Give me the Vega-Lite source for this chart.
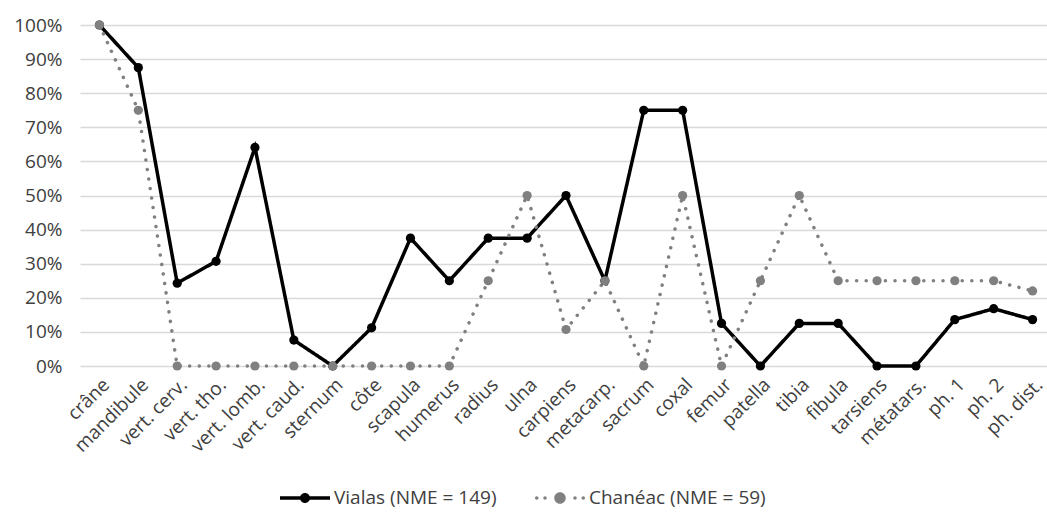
{
  "$schema": "https://vega.github.io/schema/vega-lite/v6.json",
  "width": 972,
  "height": 341,
  "autosize": {"type": "none"},
  "padding": {"left": 80, "top": 25, "right": 0, "bottom": 150},
  "background": "white",
  "config": {
    "view": {"stroke": null},
    "font": "Open Sans",
    "axis": {"labelFont": "Open Sans", "labelFontSize": 19, "labelColor": "#404040"},
    "legend": {"labelFont": "Open Sans", "labelFontSize": 19, "labelColor": "#404040", "labelLimit": 400}
  },
  "data": {
    "values": [
      {"os": "crâne", "serie": "Vialas (NME = 149)", "pct": 1.0},
      {"os": "mandibule", "serie": "Vialas (NME = 149)", "pct": 0.875},
      {"os": "vert. cerv.", "serie": "Vialas (NME = 149)", "pct": 0.243},
      {"os": "vert. tho.", "serie": "Vialas (NME = 149)", "pct": 0.307},
      {"os": "vert. lomb.", "serie": "Vialas (NME = 149)", "pct": 0.641},
      {"os": "vert. caud.", "serie": "Vialas (NME = 149)", "pct": 0.076},
      {"os": "sternum", "serie": "Vialas (NME = 149)", "pct": 0.0},
      {"os": "côte", "serie": "Vialas (NME = 149)", "pct": 0.112},
      {"os": "scapula", "serie": "Vialas (NME = 149)", "pct": 0.375},
      {"os": "humerus", "serie": "Vialas (NME = 149)", "pct": 0.25},
      {"os": "radius", "serie": "Vialas (NME = 149)", "pct": 0.375},
      {"os": "ulna", "serie": "Vialas (NME = 149)", "pct": 0.375},
      {"os": "carpiens", "serie": "Vialas (NME = 149)", "pct": 0.5},
      {"os": "metacarp.", "serie": "Vialas (NME = 149)", "pct": 0.25},
      {"os": "sacrum", "serie": "Vialas (NME = 149)", "pct": 0.75},
      {"os": "coxal", "serie": "Vialas (NME = 149)", "pct": 0.75},
      {"os": "femur", "serie": "Vialas (NME = 149)", "pct": 0.125},
      {"os": "patella", "serie": "Vialas (NME = 149)", "pct": 0.0},
      {"os": "tibia", "serie": "Vialas (NME = 149)", "pct": 0.125},
      {"os": "fibula", "serie": "Vialas (NME = 149)", "pct": 0.125},
      {"os": "tarsiens", "serie": "Vialas (NME = 149)", "pct": 0.0},
      {"os": "métatars.", "serie": "Vialas (NME = 149)", "pct": 0.0},
      {"os": "ph. 1", "serie": "Vialas (NME = 149)", "pct": 0.136},
      {"os": "ph. 2", "serie": "Vialas (NME = 149)", "pct": 0.168},
      {"os": "ph. dist.", "serie": "Vialas (NME = 149)", "pct": 0.136},
      {"os": "crâne", "serie": "Chanéac (NME = 59)", "pct": 1.0},
      {"os": "mandibule", "serie": "Chanéac (NME = 59)", "pct": 0.75},
      {"os": "vert. cerv.", "serie": "Chanéac (NME = 59)", "pct": 0.0},
      {"os": "vert. tho.", "serie": "Chanéac (NME = 59)", "pct": 0.0},
      {"os": "vert. lomb.", "serie": "Chanéac (NME = 59)", "pct": 0.0},
      {"os": "vert. caud.", "serie": "Chanéac (NME = 59)", "pct": 0.0},
      {"os": "sternum", "serie": "Chanéac (NME = 59)", "pct": 0.0},
      {"os": "côte", "serie": "Chanéac (NME = 59)", "pct": 0.0},
      {"os": "scapula", "serie": "Chanéac (NME = 59)", "pct": 0.0},
      {"os": "humerus", "serie": "Chanéac (NME = 59)", "pct": 0.0},
      {"os": "radius", "serie": "Chanéac (NME = 59)", "pct": 0.25},
      {"os": "ulna", "serie": "Chanéac (NME = 59)", "pct": 0.5},
      {"os": "carpiens", "serie": "Chanéac (NME = 59)", "pct": 0.107},
      {"os": "metacarp.", "serie": "Chanéac (NME = 59)", "pct": 0.25},
      {"os": "sacrum", "serie": "Chanéac (NME = 59)", "pct": 0.0},
      {"os": "coxal", "serie": "Chanéac (NME = 59)", "pct": 0.5},
      {"os": "femur", "serie": "Chanéac (NME = 59)", "pct": 0.0},
      {"os": "patella", "serie": "Chanéac (NME = 59)", "pct": 0.25},
      {"os": "tibia", "serie": "Chanéac (NME = 59)", "pct": 0.5},
      {"os": "fibula", "serie": "Chanéac (NME = 59)", "pct": 0.25},
      {"os": "tarsiens", "serie": "Chanéac (NME = 59)", "pct": 0.25},
      {"os": "métatars.", "serie": "Chanéac (NME = 59)", "pct": 0.25},
      {"os": "ph. 1", "serie": "Chanéac (NME = 59)", "pct": 0.25},
      {"os": "ph. 2", "serie": "Chanéac (NME = 59)", "pct": 0.25},
      {"os": "ph. dist.", "serie": "Chanéac (NME = 59)", "pct": 0.22}
    ]
  },
  "encoding": {
    "x": {
      "field": "os", "type": "nominal", "sort": null,
      "scale": {"type": "point", "padding": 0.5},
      "axis": {"title": null, "labelAngle": -45, "ticks": false, "domain": false, "grid": false, "labelPadding": 9}
    },
    "y": {
      "field": "pct", "type": "quantitative",
      "scale": {"domain": [0, 1]},
      "axis": {"title": null, "format": ".0%", "values": [0, 0.1, 0.2, 0.3, 0.4, 0.5, 0.6, 0.7, 0.8, 0.9, 1.0], "ticks": false, "domain": false, "gridColor": "#d9d9d9", "gridWidth": 1.3, "labelPadding": 18}
    },
    "color": {
      "field": "serie", "type": "nominal", "sort": null,
      "scale": {"domain": ["Vialas (NME = 149)", "Chanéac (NME = 59)"], "range": ["#000000", "#808080"]},
      "legend": {
        "title": null, "orient": "none", "direction": "horizontal", "legendX": 200, "legendY": 448,
        "symbolSize": 2500, "symbolStrokeWidth": 0, "columnPadding": 38, "labelOffset": 4,
        "encode": {
          "symbols": {
            "update": {
              "shape": {"signal": "datum.label == 'Chanéac (NME = 59)' ? 'M -1 0 A 0.07 0.07 0 1 1 -0.86 0 A 0.07 0.07 0 1 1 -1 0 Z M -0.67 0 A 0.07 0.07 0 1 1 -0.53 0 A 0.07 0.07 0 1 1 -0.67 0 Z M 0.53 0 A 0.07 0.07 0 1 1 0.67 0 A 0.07 0.07 0 1 1 0.53 0 Z M 0.86 0 A 0.07 0.07 0 1 1 1 0 A 0.07 0.07 0 1 1 0.86 0 Z M -0.23 0 A 0.23 0.23 0 1 1 0.23 0 A 0.23 0.23 0 1 1 -0.23 0 Z' : 'M -1 -0.07 L -0.19 -0.07 L -0.19 0.07 L -1 0.07 Z M 0.19 -0.07 L 1 -0.07 L 1 0.07 L 0.19 0.07 Z M -0.2 0 A 0.2 0.2 0 1 1 0.2 0 A 0.2 0.2 0 1 1 -0.2 0 Z'"},
              "strokeWidth": {"value": 0}
            }
          }
        }
      }
    }
  },
  "layer": [
    {
      "mark": {"type": "line", "strokeWidth": 3.5, "strokeCap": "round"},
      "encoding": {
        "strokeDash": {
          "field": "serie", "type": "nominal", "sort": null,
          "scale": {"domain": ["Vialas (NME = 149)", "Chanéac (NME = 59)"], "range": [[1, 0], [0.1, 9.5]]},
          "legend": null
        }
      }
    },
    {
      "mark": {"type": "point", "filled": true, "opacity": 1, "size": 85, "shape": "circle"}
    }
  ]
}
